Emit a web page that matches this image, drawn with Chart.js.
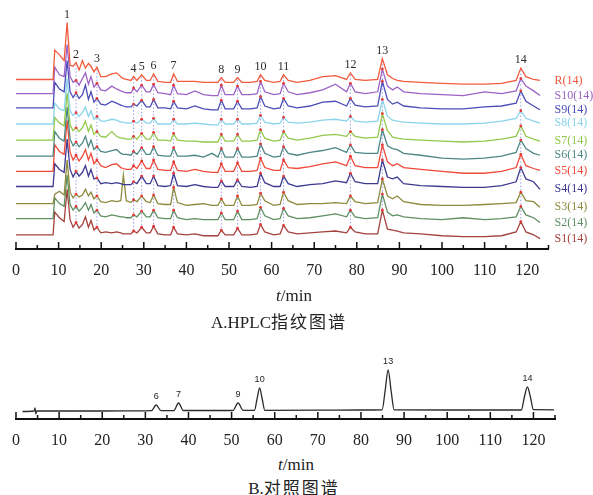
<!DOCTYPE html>
<html>
<head>
<meta charset="utf-8">
<script src="https://cdn.jsdelivr.net/npm/chart.js@4.4.0/dist/chart.umd.min.js"></script>
<style>
  body { margin: 0; background: #fff; }
  #wrap { position: relative; width: 593px; height: 495px; font-family: 'Liberation Serif', 'Noto Sans CJK SC', serif; color: #222; }
  canvas { position: absolute; left: 0; }
  #fingerprint { top: 0; }
  #reference { top: 340px; }
  .cap { position: absolute; white-space: nowrap; transform: translateX(-50%); line-height: 1; }
  .cjk { letter-spacing: 2px; }
</style>
</head>
<body>
<div id="wrap">
  <canvas id="fingerprint" width="593" height="305"></canvas>
  <canvas id="reference" width="593" height="115"></canvas>
  <div class="cap" style="left:294px; top:287px; font-size:17px;"><i>t</i>/min</div>
  <div class="cap" style="left:279px; top:314px; font-size:17px;">A.HPLC<span class="cjk">指纹图谱</span></div>
  <div class="cap" style="left:296px; top:456px; font-size:17px;"><i>t</i>/min</div>
  <div class="cap" style="left:294px; top:480px; font-size:17px;">B.<span class="cjk">对照图谱</span></div>
</div>
<script>
// retention time grid shared by the sample traces (min)
const minutes = [0, 8.7, 9.1, 10.2, 11.3, 12.0, 12.7, 13.4, 14.1, 14.8,
  15.6, 16.3, 17.0, 17.6, 18.3, 19.0, 19.9, 21.0, 22.5, 23.6,
  24.6, 25.2, 25.9, 27.0, 27.6, 28.4, 29.5, 30.6, 31.5, 32.3,
  33.3, 35.0, 36.3, 37.0, 37.9, 40.0, 42.0, 44.0, 46.0, 47.4,
  48.2, 49.1, 51.1, 52.0, 53.0, 55.0, 56.6, 57.4, 58.4, 60.5,
  62.0, 62.8, 63.9, 66.0, 69.0, 72.0, 75.0, 77.6, 78.5, 79.6,
  82.0, 84.9, 86.0, 87.2, 88.4, 89.5, 91.0, 95.0, 100.0, 105.0,
  110.0, 114.0, 117.4, 118.5, 119.7, 121.5, 123.0];

// signal of each trace above its own start level
const R = [0, 0, 31, 26, 20, 60, 15, 14, 18, 10,
  20, 12, 17, 14, 8, 13, 3, 3, 6, 7,
  3, 1, 0, -1, 3, -1, 5, -1, -1, 6,
  -2, -3, -3, 6, -2, -2, -2, -3, -3, -3,
  2, -3, -3, 2, -3, -3, -2, 5, -1, -3,
  -2, 5, -1, -3, -1, 3, 4, 0, 7, 0,
  -1, 0, 22, 5, 1, -1, -2, -3, -4, -5,
  -5, -4, -1, 12, 3, 0, -1];
const S10 = [0, 0, 28, 20, 18, 52, 18, 12, 14, 9,
  16, 22, 10, 18, 7, 11, 4, 3, 8, 5,
  3, 2, 1, 1, 6, 2, 9, 2, 2, 10,
  1, 0, -1, 9, 0, -1, 3, -1, -2, -2,
  9, -1, -1, 8, -1, -1, 0, 13, 2, -1,
  0, 11, 2, -1, 1, 4, 10, 2, 11, 2,
  0, 2, 26, 8, 4, 7, 2, 0, -1, -2,
  2, 0, 3, 16, 8, 3, -2];
const S9 = [0, 0, 27, 20, 17, 50, 17, 11, 16, 10,
  14, 24, 9, 17, 6, 10, 4, 3, 7, 5,
  3, 2, 1, 1, 4, 2, 8, 1, 1, 9,
  0, 0, -1, 7, 0, -1, 2, -1, -2, -2,
  8, -1, -1, 7, -1, -1, 0, 12, 2, -1,
  0, 10, 2, 0, 2, 6, 7, 2, 10, 3,
  1, 2, 28, 9, 4, 6, 2, 0, -1, -1,
  1, 2, 5, 18, 7, 2, -2];
const S8 = [0, 0, 22, 16, 14, 48, 14, 9, 12, 8,
  12, 18, 8, 14, 5, 8, 3, 3, 5, 4,
  2, 2, 1, 1, 3, 1, 5, 1, 1, 6,
  0, 0, 0, 5, 0, 0, 1, 0, -1, -1,
  5, 0, 0, 5, 0, 0, 1, 9, 2, 0,
  1, 7, 2, 1, 2, 4, 5, 3, 8, 3,
  2, 3, 26, 8, 4, 3, 2, 1, 0, 0,
  1, 3, 6, 14, 6, 3, 1];
const S7 = [0, 0, 24, 18, 15, 50, 16, 10, 13, 9,
  13, 20, 9, 16, 6, 9, 4, 3, 9, 4,
  2, 2, 1, 1, 4, 1, 7, 1, 1, 8,
  0, 0, -1, 7, 0, -1, -1, -2, -2, -2,
  6, -1, -1, 6, -1, -1, 0, 11, 2, -1,
  0, 9, 2, 0, 2, 5, 6, 4, 9, 4,
  2, 3, 28, 10, 3, 2, 1, 0, -1, -2,
  -1, 1, 4, 15, 4, 1, -1];
const S6 = [0, 0, 26, 19, 16, 52, 18, 11, 15, 10,
  14, 21, 10, 17, 7, 10, 5, 4, 6, 7,
  3, 2, 2, 1, 5, 2, 9, 2, 2, 10,
  1, 0, 0, 9, 0, 0, 1, -1, 3, -1,
  8, -1, -1, 8, -1, -1, 0, 13, 3, -1,
  0, 10, 3, 1, 4, 6, 9, 4, 12, 4,
  3, 3, 28, 11, 8, 7, 3, 1, -2, -3,
  -2, 0, 4, 17, 8, 3, 1];
const S5 = [0, 0, 28, 21, 18, 54, 20, 12, 17, 11,
  16, 23, 12, 19, 8, 12, 6, 4, 7, 8,
  4, 3, 2, 2, 6, 3, 11, 3, 3, 12,
  2, 1, 1, 10, 1, 0, 2, 0, -1, -1,
  8, 0, 0, 9, 0, 0, 1, 14, 4, 1,
  1, 12, 4, 3, 5, 8, 10, 6, 16, 6,
  4, 4, 28, 10, 6, 8, 4, 2, 0, -2,
  -2, 0, 4, 18, 6, 3, 1];
const S4 = [0, 0, 24, 18, 15, 50, 18, 10, 16, 11,
  15, 22, 11, 18, 8, 9, 3, 4, 3, 4,
  3, 2, 2, 2, 5, 3, 11, 3, 3, 11,
  1, 0, 1, 14, 1, 0, 2, 0, -1, -1,
  6, 0, 0, 7, 0, -1, 0, 14, 4, 0,
  0, 11, 3, 0, 2, 3, 6, 4, 14, 5,
  3, 3, 28, 10, 8, 10, 3, 1, 0, -1,
  -1, 1, 5, 20, 8, 5, -3];
const S3 = [0, 0, 10, 13, 9, 46, 12, 6, 10, 7,
  9, 15, 8, 12, 5, 8, 2, 1, 3, 2,
  3, 30, 3, 1, 4, 2, 8, 2, 1, 9,
  0, -1, -1, 17, 1, -2, -1, 0, -2, -2,
  5, -2, -2, 8, -2, -2, -1, 11, 3, -2,
  -1, 12, 3, -1, 0, 0, 1, 0, 8, 2,
  0, 1, 26, 8, 5, 8, 2, -1, -2, -2,
  -1, 0, 1, 12, 3, 2, -4];
const S2 = [0, 0, 22, 16, 13, 46, 15, 9, 13, 8,
  12, 17, 9, 15, 6, 9, 3, 2, 4, 3,
  2, 2, 1, 1, 4, 2, 8, 2, 2, 9,
  1, 0, 0, 9, 1, -1, 0, -1, -1, -1,
  6, -1, -1, 8, -1, -1, 0, 12, 3, -1,
  0, 11, 3, 0, 1, 3, 5, 2, 9, 2,
  0, 1, 26, 7, 3, 4, 2, 0, -1, 1,
  -1, 0, 2, 13, 4, 1, -4];
const S1 = [0, 0, 24, 18, 14, 48, 16, 8, 13, 7,
  11, 19, 8, 15, 5, 8, 2, 3, 2, 3,
  2, 1, 1, 1, 4, 2, 8, 2, 2, 9,
  1, 0, 0, 8, 1, 0, 1, -1, -1, -1,
  5, 0, 0, 7, 0, 0, 1, 11, 3, 0,
  1, 10, 3, 1, 2, 3, 4, 2, 8, 3,
  1, 1, 26, 6, 5, 4, 2, 1, -1, -2,
  -2, -1, 3, 14, 3, 0, -4];

const traceNames = ['R(14)', 'S10(14)', 'S9(14)', 'S8(14)', 'S7(14)', 'S6(14)', 'S5(14)', 'S4(14)', 'S3(14)', 'S2(14)', 'S1(14)'];
const traces = [R, S10, S9, S8, S7, S6, S5, S4, S3, S2, S1];
// grid index of common peaks 1..14
const peakIdx = [5, 8, 15, 24, 26, 29, 33, 40, 43, 47, 51, 58, 62, 73];

// reference standard chromatogram
const refMinutes = [1.5, 4.2, 4.4, 4.6, 4.8, 10, 20, 30, 31.4, 32.5,
  33.6, 36.6, 37.7, 38.8, 50.3, 51.5, 52.7, 55.3, 55.9, 56.5,
  57.1, 57.7, 70, 80, 84.9, 85.6, 86.3, 87.0, 87.7, 100,
  110, 117.2, 117.9, 118.6, 119.3, 120.0, 124.8];
const refSignal = [7.5, 8, 11, 5, 8, 8, 8, 8.2, 8.3, 14,
  8.4, 8.4, 16, 8.5, 8.5, 16, 8.6, 8.6, 20, 31,
  20, 8.7, 8.8, 9, 9.2, 28, 49, 28, 9.2, 9,
  9, 9, 22, 32, 22, 9.3, 9.2];
const refPeakNames = ['6', '7', '9', '10', '13', '14'];
const refPeakTimes = [32.5, 37.7, 51.5, 56.5, 86.3, 118.6];

// stacking offsets and colours
const offsets = [176, 161, 146, 129, 112, 95, 79, 63, 45, 29, 12];
const traceColors = ['#f25a3c', '#9c62c6', '#4a4db6', '#8ad4ec', '#93c84c', '#4d8785',
  '#ef4a3a', '#3e3a90', '#8d8a3e', '#5f8f62', '#a4423e'];

const serif = '"Liberation Serif", "Times New Roman", serif';

const inwardTicks = {
  id: 'inwardTicks',
  afterDraw(chart) {
    const { ctx, chartArea } = chart;
    const x = chart.scales.x;
    ctx.save();
    ctx.strokeStyle = '#111';
    ctx.lineWidth = 1.5;
    x.ticks.forEach(t => {
      const px = x.getPixelForValue(t.value);
      const len = t.value % 10 === 0 ? 7 : 4;
      ctx.beginPath();
      ctx.moveTo(px, chartArea.bottom);
      ctx.lineTo(px, chartArea.bottom - len);
      ctx.stroke();
    });
    ctx.restore();
  }
};

const peakGuides = {
  id: 'peakGuides',
  beforeDatasetsDraw(chart) {
    const { ctx } = chart;
    const { x, y } = chart.scales;
    ctx.save();
    ctx.strokeStyle = 'rgba(70,80,200,0.55)';
    ctx.lineWidth = 1;
    ctx.setLineDash([1.5, 2]);
    peakIdx.slice(1).forEach(k => {
      const px = x.getPixelForValue(minutes[k]);
      ctx.beginPath();
      ctx.moveTo(px, y.getPixelForValue(offsets[0] + R[k]) + 2);
      ctx.lineTo(px, y.getPixelForValue(offsets[10] + S1[k]));
      ctx.stroke();
    });
    ctx.restore();
  },
  afterDatasetsDraw(chart) {
    const { ctx } = chart;
    const { x, y } = chart.scales;
    ctx.save();
    ctx.font = '12px ' + serif;
    ctx.fillStyle = '#2a2a2a';
    ctx.textAlign = 'center';
    ctx.textBaseline = 'middle';
    peakIdx.forEach((k, n) => {
      const py = y.getPixelForValue(offsets[0] + R[k]);
      ctx.fillText(String(n + 1), x.getPixelForValue(minutes[k]), Math.max(py - 8, 11));
    });
    ctx.restore();
  }
};

const peakSet = new Set(peakIdx.slice(1));

new Chart(document.getElementById('fingerprint'), {
  type: 'line',
  data: {
    datasets: traces.map((vals, i) => ({
      label: traceNames[i],
      data: minutes.map((t, k) => ({ x: t, y: offsets[i] + vals[k] })),
      borderColor: traceColors[i],
      borderWidth: 1.3,
      tension: 0,
      pointRadius: c => (i > 0 && peakSet.has(c.dataIndex)) ? 1.4 : 0,
      pointBackgroundColor: '#e63a3a',
      pointBorderWidth: 0
    }))
  },
  options: {
    responsive: false,
    animation: false,
    devicePixelRatio: 1,
    events: [],
    layout: { padding: { left: 15, top: 0, right: 0, bottom: 0 } },
    plugins: { legend: { display: false }, tooltip: { enabled: false } },
    scales: {
      x: {
        type: 'linear', min: 0, max: 125,
        grid: { display: false, drawTicks: false },
        border: { display: true, color: '#111', width: 2 },
        ticks: {
          stepSize: 5, autoSkip: false, maxRotation: 0, padding: 12, color: '#222',
          font: { family: serif, size: 16 },
          callback: v => v % 10 === 0 ? v : ''
        },
        afterFit: s => { s.height = 56; }
      },
      y: { display: false, min: -3, max: 246 },
      names: {
        position: 'right', min: -3, max: 246,
        grid: { display: false, drawTicks: false },
        border: { display: false },
        afterBuildTicks: s => {
          s.ticks = traces.map((v, i) => ({ value: offsets[i] + v[v.length - 1] })).reverse();
        },
        ticks: {
          autoSkip: false, padding: 6,
          font: { family: serif, size: 12 },
          callback: (v, i) => traceNames[traceNames.length - 1 - i],
          color: c => traceColors[traceColors.length - 1 - c.index]
        },
        afterFit: s => { s.width = 44.5; }
      }
    }
  },
  plugins: [peakGuides, inwardTicks]
});

const refLabels = {
  id: 'refLabels',
  afterDatasetsDraw(chart) {
    const { ctx } = chart;
    const { x, y } = chart.scales;
    ctx.save();
    ctx.font = '9px "Liberation Sans", sans-serif';
    ctx.fillStyle = '#222';
    ctx.textAlign = 'center';
    ctx.textBaseline = 'middle';
    refPeakTimes.forEach((t, n) => {
      const k = refMinutes.indexOf(t);
      ctx.fillText(refPeakNames[n], x.getPixelForValue(t), y.getPixelForValue(refSignal[k]) - 8);
    });
    ctx.restore();
  }
};

new Chart(document.getElementById('reference'), {
  type: 'line',
  data: {
    datasets: [{
      label: '对照',
      data: refMinutes.map((t, k) => ({ x: t, y: refSignal[k] })),
      borderColor: '#2b2b2b',
      borderWidth: 1.3,
      cubicInterpolationMode: 'monotone',
      pointRadius: 0
    }]
  },
  options: {
    responsive: false,
    animation: false,
    devicePixelRatio: 1,
    events: [],
    layout: { padding: { left: 16, top: 20, right: 38, bottom: 0 } },
    plugins: { legend: { display: false }, tooltip: { enabled: false } },
    scales: {
      x: {
        type: 'linear', min: 0, max: 125,
        grid: { display: false, drawTicks: false },
        border: { display: true, color: '#111', width: 2 },
        ticks: {
          stepSize: 5, autoSkip: false, maxRotation: 0, padding: 12, color: '#222',
          font: { family: serif, size: 16 },
          callback: v => v % 10 === 0 ? v : ''
        },
        afterFit: s => { s.height = 36; }
      },
      y: { display: false, min: 0, max: 59 }
    }
  },
  plugins: [refLabels, inwardTicks]
});
</script>
</body>
</html>
